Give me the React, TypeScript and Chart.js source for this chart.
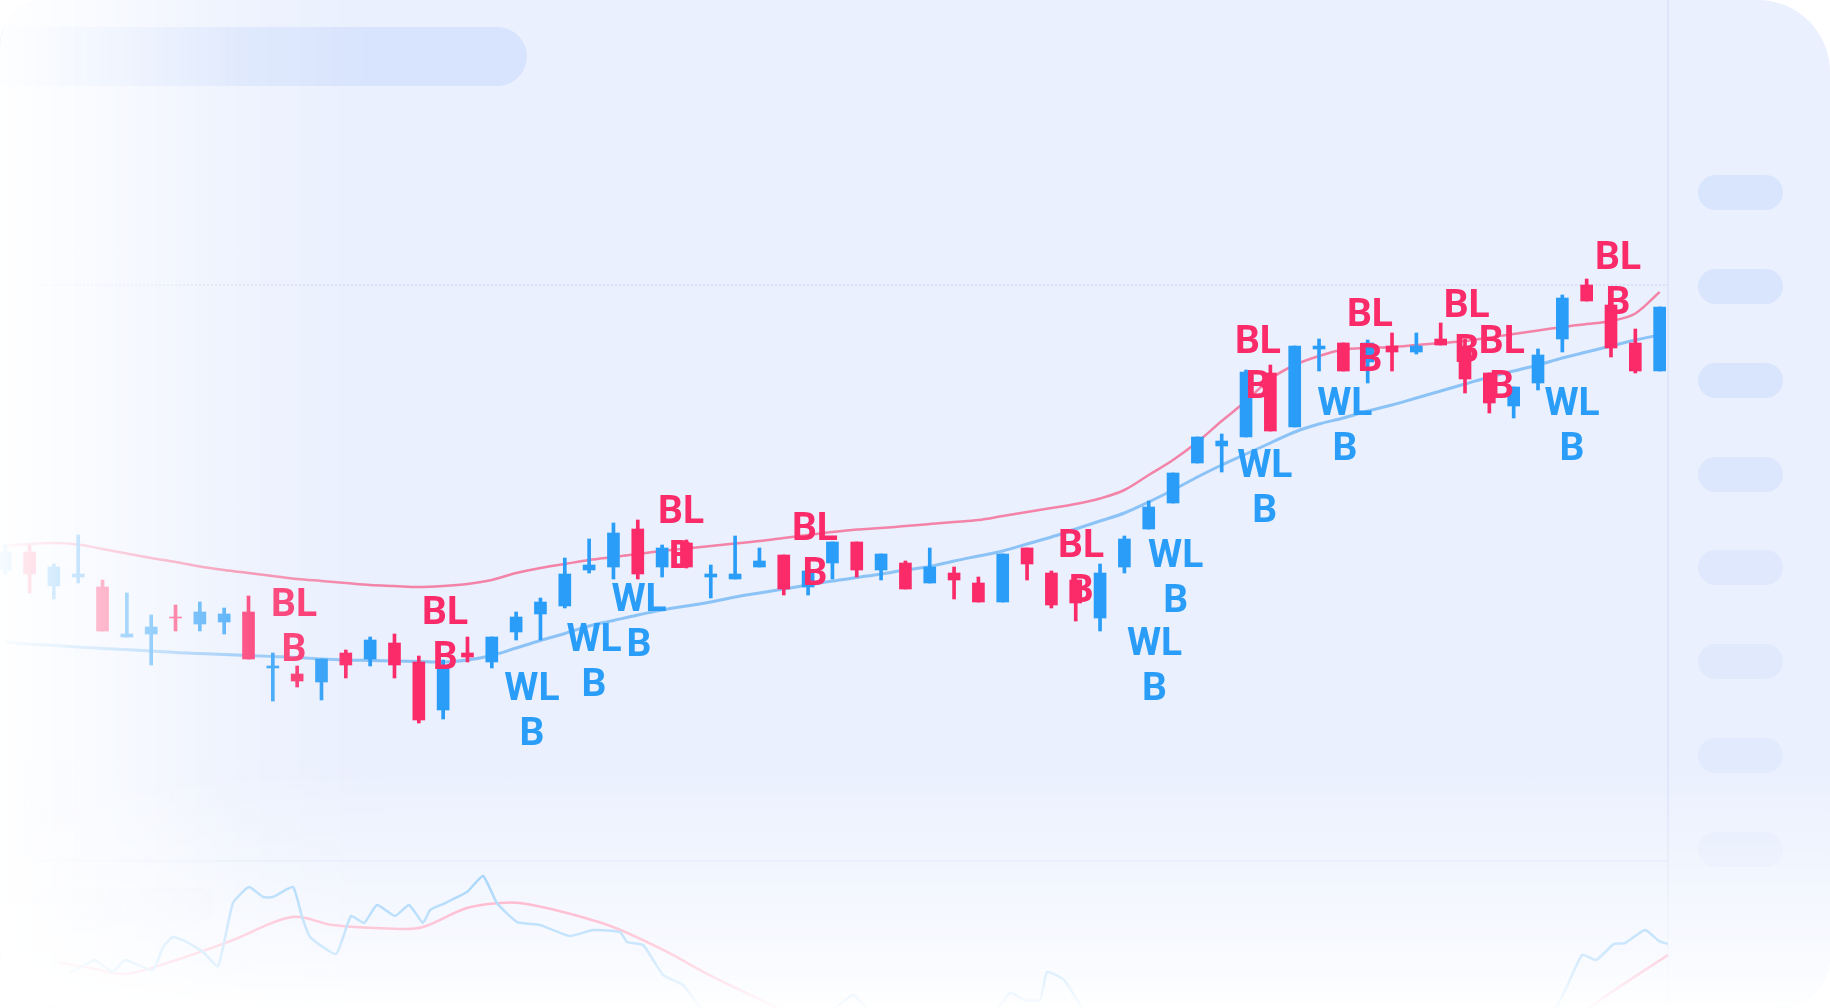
import React, { useEffect, useRef } from "react";
import { Chart, registerables } from "chart.js";

Chart.register(...registerables);

// ---- price data (one entry per session) ----
const sessions = Array.from({ length: 69 }, (_, i) => i);

const opens = [43.0, 44.8, 41.4, 42.3, 41.3, 36.3, 36.6, 38.3, 37.6, 37.8, 38.8, 33.2, 32.6, 31.8, 34.7, 34.1, 35.7, 33.8, 29.0, 34.7, 33.8, 36.8, 38.6, 39.4, 43.0, 43.3, 47.1, 43.3, 45.7, 42.3, 42.1, 43.3, 44.5, 41.3, 43.7, 45.8, 43.0, 43.7, 41.7, 42.7, 41.7, 39.8, 45.2, 42.7, 42.0, 38.2, 43.3, 47.1, 49.7, 53.7, 55.4, 56.3, 62.7, 57.3, 65.1, 65.7, 63.8, 65.4, 64.8, 66.1, 65.4, 62.7, 59.4, 61.7, 66.1, 71.5, 69.5, 65.7, 62.9];
const closes = [44.8, 42.6, 43.3, 42.6, 36.9, 36.6, 37.3, 38.2, 38.8, 38.6, 34.1, 33.4, 31.9, 34.1, 33.5, 36.0, 33.5, 28.0, 33.2, 34.3, 36.3, 38.3, 39.8, 42.6, 43.5, 46.7, 42.6, 45.2, 43.3, 42.6, 42.6, 43.9, 41.1, 42.9, 45.8, 43.0, 44.6, 41.1, 43.3, 42.0, 39.8, 44.6, 43.6, 39.5, 39.7, 42.7, 46.1, 49.3, 52.7, 56.3, 55.9, 62.8, 56.9, 65.4, 65.4, 62.9, 65.7, 64.8, 65.4, 65.5, 62.1, 59.7, 61.3, 64.5, 70.2, 69.9, 65.2, 62.9, 69.3];
const highs = [45.5, 45.5, 43.6, 46.5, 42.0, 40.7, 38.5, 39.5, 39.8, 39.2, 40.4, 34.7, 33.4, 34.1, 35.0, 36.3, 36.6, 34.4, 34.0, 36.3, 36.3, 38.8, 40.2, 44.2, 46.1, 47.7, 48.0, 45.5, 46.0, 43.5, 46.4, 45.2, 44.5, 43.1, 45.8, 45.8, 44.6, 43.9, 45.2, 43.3, 42.3, 44.6, 45.2, 42.9, 42.0, 43.6, 46.4, 49.9, 52.7, 56.3, 56.6, 63.0, 63.5, 65.4, 66.1, 65.7, 66.0, 66.7, 66.7, 67.7, 66.1, 62.7, 61.3, 65.1, 70.5, 72.1, 69.5, 67.1, 69.3];
const lows = [42.5, 40.7, 40.1, 41.7, 36.9, 36.3, 33.5, 36.9, 36.9, 36.6, 34.1, 29.9, 31.3, 30.0, 32.2, 33.4, 32.2, 27.7, 28.1, 33.8, 33.2, 36.0, 36.0, 39.2, 42.7, 42.1, 42.1, 42.3, 43.2, 40.2, 42.1, 43.3, 40.5, 40.5, 42.1, 42.3, 42.0, 41.1, 41.7, 40.1, 39.8, 39.8, 42.0, 39.2, 37.9, 36.9, 42.7, 47.1, 49.7, 53.7, 52.8, 56.3, 56.9, 57.3, 62.9, 62.9, 61.7, 62.9, 64.6, 65.5, 60.7, 58.7, 58.2, 61.0, 64.8, 69.9, 64.3, 62.7, 62.9];

// ---- envelope bands ----
const upperBand = [45.4, 45.6, 45.7, 45.55, 45.1, 44.65, 44.2, 43.8, 43.35, 43.0, 42.7, 42.4, 42.1, 41.9, 41.7, 41.5, 41.4, 41.3, 41.4, 41.6, 42.0, 42.7, 43.2, 43.6, 44.0, 44.3, 44.6, 44.9, 45.15, 45.4, 45.65, 45.9, 46.2, 46.5, 46.8, 47.05, 47.2, 47.4, 47.6, 47.8, 48.0, 48.4, 48.8, 49.2, 49.6, 50.15, 51.0, 52.5, 54.0, 55.8, 57.9, 59.9, 62.1, 63.5, 64.4, 65.05, 65.2, 65.3, 65.5, 65.7, 65.9, 66.25, 66.6, 66.95, 67.3, 67.6, 67.9, 68.65, 70.8];
const lowerBand = [35.8, 35.6, 35.45, 35.3, 35.15, 35.05, 34.9, 34.75, 34.65, 34.55, 34.45, 34.35, 34.25, 34.1, 34.0, 33.95, 33.9, 33.85, 33.8, 34.0, 34.45, 35.2, 35.95, 36.65, 37.4, 37.95, 38.5, 39.0, 39.4, 39.8, 40.3, 40.7, 41.1, 41.5, 41.9, 42.25, 42.6, 43.0, 43.35, 43.9, 44.4, 44.9, 45.6, 46.3, 47.1, 47.9, 48.7, 49.8, 51.0, 52.3, 53.5, 54.6, 55.7, 56.8, 57.6, 58.2, 58.9, 59.5, 60.2, 60.9, 61.6, 62.3, 62.9, 63.5, 64.2, 64.8, 65.4, 66.0, 66.5];

// ---- signal labels ----
const sellLabel = ["BL", "B"];
const sellX = [11.87, 18.08, 27.78, 33.28, 44.22, 51.49, 56.09, 60.07, 61.51, 66.29];
const sellY = [38.4, 37.6, 47.7, 46.0, 44.3, 64.7, 67.4, 68.3, 64.7, 73.1];
const buyLabel = ["WL", "B"];
const buyX = [21.65, 24.2, 26.05, 47.24, 48.11, 51.77, 55.06, 64.4];
const buyY = [30.0, 34.9, 38.9, 34.5, 43.3, 52.3, 58.5, 58.5];

// ---- oscillator (lower pane) ----
const oscFastX = [2.66, 3.28, 3.69, 4.43, 4.92, 6.07, 6.49, 6.9, 7.47, 8.13, 8.75, 9.36, 10.02, 10.6, 11.01, 11.83, 12.2, 12.53, 13.6, 14.21, 14.75, 15.28, 16.02, 16.6, 17.17, 17.46, 17.99, 18.98, 19.64, 20.21, 21.04, 21.98, 23.21, 24.16, 25.27, 25.56, 26.22, 27.04, 27.86, 28.56, 30.2, 32.67, 33.9, 34.85, 35.55, 37.6, 40.07, 41.3, 41.9, 42.53, 42.82, 43.52, 44.26, 46.23, 53.22, 61.44, 63.74, 64.81, 65.39, 66.12, 66.58, 67.4, 67.97, 68.34];
const oscFastY = [24.0, 28.7, 32.0, 24.0, 32.0, 25.3, 40.7, 47.3, 44.0, 37.3, 28.0, 70.0, 80.7, 74.0, 74.0, 80.7, 60.7, 47.3, 36.0, 61.3, 56.7, 68.7, 61.3, 68.7, 56.7, 65.3, 69.3, 77.3, 88.0, 70.0, 57.3, 55.3, 48.0, 52.0, 50.7, 44.0, 42.0, 22.0, 15.3, 0.7, -18, -14.7, -2.7, 8.7, -2.7, -21.3, -14.7, 10.0, 5.3, 5.3, 24.0, 18.7, 0.7, -21.3, -28, -21.3, 0.7, 35.3, 32.0, 42.7, 43.3, 52.0, 44.7, 42.7];
const oscSlowX = [2.25, 3.49, 4.92, 6.65, 9.36, 11.79, 13.47, 16.23, 17.17, 18.98, 20.34, 21.16, 22.93, 24.98, 27.04, 29.09, 31.31, 34.72, 40.89, 49.11, 59.39, 63.9, 65.67, 68.34];
const oscSlowY = [30.0, 26.7, 22.7, 30.0, 45.3, 60.7, 55.3, 52.7, 54.0, 66.7, 70.0, 70.0, 64.0, 54.0, 38.7, 20.7, 3.3, -24.7, -54.7, -68, -48, -14.7, 6.7, 35.3];

const BLUE = "#2A9DF8";
const PINK = "#FB2A68";

const signalPlugin = {
  id: "signalLabels",
  afterDatasetsDraw(chart: any) {
    const { ctx, scales } = chart;
    const xs = scales.x;
    const ys = scales.y;
    ctx.save();
    ctx.font = "700 39px Roboto, 'Noto Sans', sans-serif";
    ctx.textAlign = "center";
    ctx.textBaseline = "alphabetic";
    const draw = (px: number[], py: number[], lines: string[], color: string) => {
      ctx.fillStyle = color;
      px.forEach((v, k) => {
        const x = xs.getPixelForValue(v);
        const y = ys.getPixelForValue(py[k]);
        lines.forEach((t, j) => ctx.fillText(t, x, y + j * 45));
      });
    };
    draw(buyX, buyY, buyLabel, BLUE);
    draw(sellX, sellY, sellLabel, PINK);
    ctx.restore();
  },
};

function CandleChart() {
  const ref = useRef<HTMLCanvasElement | null>(null);
  useEffect(() => {
    if (!ref.current) return;
    const colors = sessions.map((i) => (closes[i] >= opens[i] ? BLUE : PINK));
    const chart = new Chart(ref.current, {
      type: "bar",
      data: {
        datasets: [
          {
            type: "bar",
            label: "body",
            data: sessions.map((i) => ({ x: i, y: [opens[i], closes[i]] })) as any,
            backgroundColor: colors,
            barThickness: 12,
            borderWidth: 0,
            grouped: false,
            order: 0,
          } as any,
          {
            type: "bar",
            label: "wick",
            data: sessions.map((i) => ({ x: i, y: [lows[i], highs[i]] })) as any,
            backgroundColor: colors,
            barThickness: 3,
            borderWidth: 0,
            grouped: false,
            order: 1,
          } as any,
          {
            type: "line",
            label: "upper",
            data: sessions.map((i) => ({ x: i, y: upperBand[i] })),
            borderColor: "rgba(244,112,152,0.85)",
            borderWidth: 2.5,
            pointRadius: 0,
            tension: 0.4,
            cubicInterpolationMode: "monotone",
            order: 3,
          } as any,
          {
            type: "line",
            label: "lower",
            data: sessions.map((i) => ({ x: i, y: lowerBand[i] })),
            borderColor: "rgba(130,190,246,0.9)",
            borderWidth: 3,
            pointRadius: 0,
            tension: 0.4,
            cubicInterpolationMode: "monotone",
            order: 3,
          } as any,
          {
            type: "line",
            label: "fast",
            data: oscFastX.map((x, k) => ({ x, y: oscFastY[k] })),
            borderColor: "#6CBBF8",
            borderWidth: 2.5,
            pointRadius: 0,
            tension: 0.15,
            yAxisID: "y2",
            order: 4,
          } as any,
          {
            type: "line",
            label: "slow",
            data: oscSlowX.map((x, k) => ({ x, y: oscSlowY[k] })),
            borderColor: "#FF7AA2",
            borderWidth: 2.5,
            pointRadius: 0,
            tension: 0.35,
            yAxisID: "y2",
            order: 4,
          } as any,
        ],
      },
      options: {
        animation: false,
        responsive: true,
        maintainAspectRatio: false,
        events: [],
        layout: { padding: 0 },
        plugins: { legend: { display: false }, tooltip: { enabled: false }, title: { display: false } },
        scales: {
          x: { type: "linear", min: -0.2137, max: 68.343, offset: false, display: false, grid: { offset: false } },
          y: { type: "linear", min: -0.8, max: 100, display: false },
          y2: { type: "linear", min: 0, max: 672, display: false },
        },
      } as any,
      plugins: [signalPlugin],
    });
    return () => chart.destroy();
  }, []);
  return <canvas ref={ref} />;
}

const sidebarPills = [
  { top: 175, color: "#D9E4FD" },
  { top: 269, color: "#D9E4FD" },
  { top: 363, color: "#D9E4FD" },
  { top: 457, color: "#DCE6FD" },
  { top: 550, color: "#DFE8FD" },
  { top: 644, color: "#E1E9FD" },
  { top: 738, color: "#E2EAFD" },
  { top: 832, color: "#E3EBFD" },
];

export default function App() {
  const abs = (s: React.CSSProperties): React.CSSProperties => ({ position: "absolute", ...s });
  return (
    <div style={abs({ left: 0, top: 0, width: 1830, height: 1008, background: "#FFFFFF" })}>
      <div
        style={abs({
          left: 0,
          top: 0,
          width: 1830,
          height: 1008,
          background: "#EAF0FE",
          borderRadius: "46px 72px 52px 60px",
          overflow: "hidden",
        })}
      >
        <div style={abs({ left: -40, top: 27, width: 567, height: 59, borderRadius: 30, background: "#D8E4FD" })} />
        <div style={abs({ left: 40, top: 284, width: 1628, height: 0, borderTop: "2px dotted #D6E0F8" })} />
        <div style={abs({ left: 0, top: 860, width: 1668, height: 2, background: "#DCE6FC" })} />
        <div style={abs({ left: 30, top: 888, width: 185, height: 34, borderRadius: 17, background: "#E6ECFC" })} />
        <div style={abs({ left: 1667, top: 0, width: 2, height: 1008, background: "#DFE6FA" })} />
        {sidebarPills.map((p, k) => (
          <div key={k} style={abs({ left: 1698, top: p.top, width: 85, height: 35, borderRadius: 18, background: p.color })} />
        ))}
        <div style={abs({ left: 0, top: 0, width: 1668, height: 1008 })}>
          <CandleChart />
        </div>
        <div
          style={abs({
            left: 0,
            top: 0,
            width: 420,
            height: 1008,
            pointerEvents: "none",
            background:
              "linear-gradient(to right, rgba(255,255,255,0.96) 0px, rgba(255,255,255,0.62) 120px, rgba(255,255,255,0.2) 250px, rgba(255,255,255,0) 380px)",
          })}
        />
        <div
          style={abs({
            left: 0,
            top: 760,
            width: 1830,
            height: 248,
            pointerEvents: "none",
            background:
              "linear-gradient(to bottom, rgba(255,255,255,0) 0px, rgba(255,255,255,0.35) 100px, rgba(255,255,255,0.7) 200px, rgba(255,255,255,0.97) 248px)",
          })}
        />
      </div>
    </div>
  );
}
